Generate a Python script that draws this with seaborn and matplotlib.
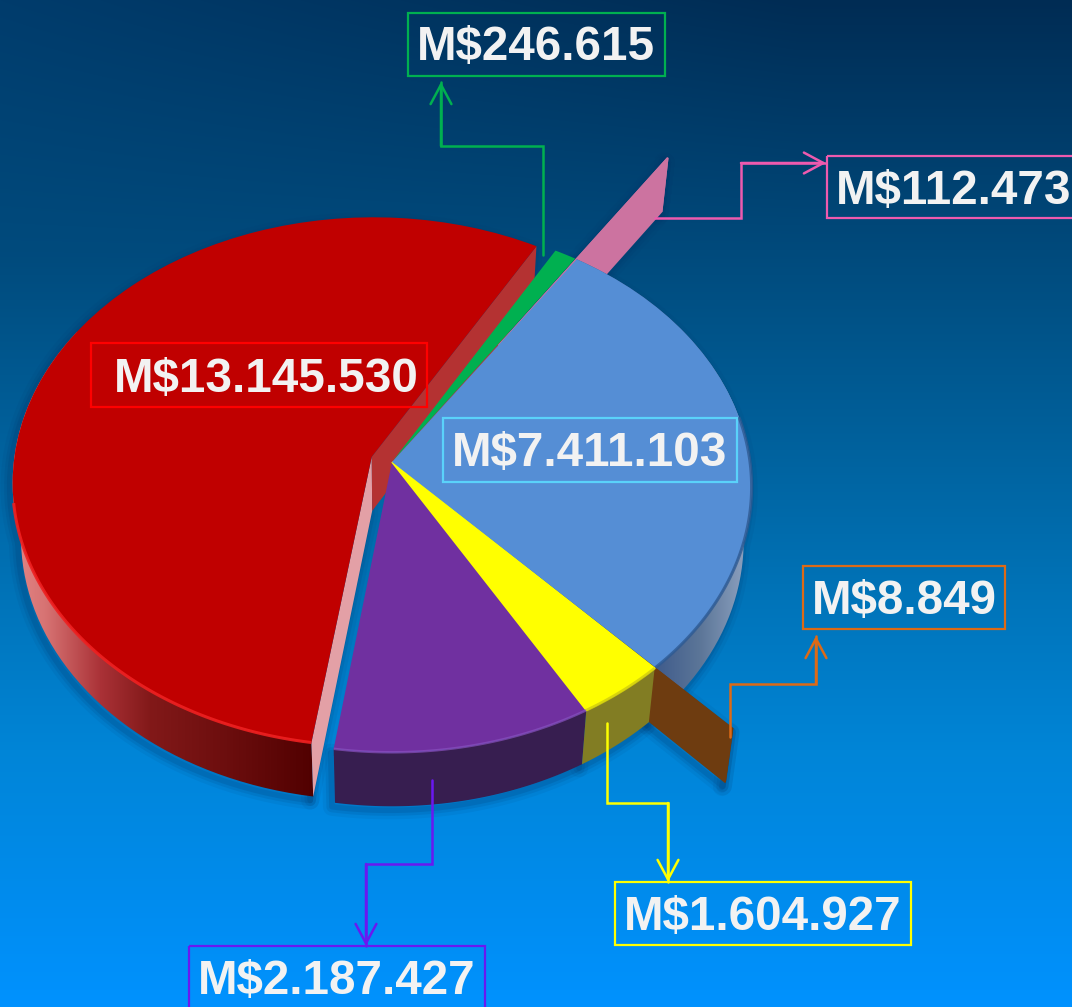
import numpy as np
import matplotlib
matplotlib.use('Agg')
import matplotlib.pyplot as plt
from matplotlib.patches import Polygon, Rectangle
from matplotlib.path import Path
from matplotlib.transforms import Transform
import seaborn as sns

# slices, counterclockwise starting from the red one
slice_names = ['red', 'purple', 'yellow', 'brown', 'blue', 'pink', 'green']
slice_degrees = [201.1, 38.4, 13.2, 0.2, 102.9, 0.3, 3.9]
slice_pulled = [0.06, 0, 0, 0.27, 0, 0.56, 0]
slice_labels = ['M$13.145.530', 'M$2.187.427', 'M$1.604.927', 'M$8.849',
                'M$7.411.103', 'M$112.473', 'M$246.615']
face_hex = ['#C00000', '#7030A0', '#FFFF00', '#6E3C10', '#558ED5', '#CC73A0', '#00B050']
line_hex = ['#FF0000', '#6A18F0', '#FFFF00', '#DD6A16', '#5AD2FA', '#EE5AAE', '#00B050']

# label layout: x0, y0, x1, y1 of box, text center
boxes = {
    'red': (91, 343, 427, 407, 266, 380),
    'purple': (189, 946, 485, 1030, 337, 982),
    'yellow': (615, 882, 911, 945, 763, 918),
    'brown': (803, 566, 1005, 629, 904, 601),
    'blue': (443, 418, 737, 482, 590, 454),
    'pink': (827, 156, 1090, 218, 954, 191),
    'green': (408, 13, 665, 76, 536, 48),
}
# elbow leaders, last segment of the arrow ones gets a head
leaders = {
    'purple': [(432, 780), (432, 864), (366, 864), (366, 946)],
    'yellow': [(607, 723), (607, 803), (668, 803), (668, 882)],
    'brown': [(730, 737), (730, 684), (816, 684), (816, 636)],
    'pink': [(655, 218), (741, 218), (741, 163), (826, 163)],
    'green': [(543, 255), (543, 146), (441, 146), (441, 82)],
}

CX, CY = 392, 462
RX, RY = 358, 263
KP = 0.094
DEPTH = 54
SHRINK = 0.022


class Tilt(Transform):
    # unit pie plane -> reference pixels, h=0 top of the disc, h=1 underside
    input_dims = 2
    output_dims = 2
    is_separable = False
    has_inverse = False

    def __init__(self, h=0):
        super().__init__()
        self.h = h

    def transform_non_affine(self, values):
        values = np.asarray(values, dtype=float)
        u, v = values[:, 0], values[:, 1]
        w = 1 + KP * v
        x = CX + RX * u / w * (1 - SHRINK * self.h)
        y = CY - RY * v / w + DEPTH * self.h
        return np.column_stack([x, y])


def arc_points(wd, a=None, b=None, n=120):
    a = wd.theta1 if a is None else a
    b = wd.theta2 if b is None else b
    t = np.radians(np.linspace(a, b, n))
    return np.column_stack([wd.center[0] + wd.r * np.cos(t), wd.center[1] + wd.r * np.sin(t)])


def band(pts):
    return np.vstack([Tilt(0).transform(pts), Tilt(1).transform(pts)[::-1]])


def radial_wall(wd, angle):
    t = np.radians(angle)
    pts = np.array([wd.center, (wd.center[0] + wd.r * np.cos(t), wd.center[1] + wd.r * np.sin(t))])
    return band(pts)


def gradient_fill(ax, poly, xs, cols, z):
    # horizontal colour ramp, cut to the polygon
    grid = np.arange(0, 1072)
    ramp = np.column_stack([np.interp(grid, xs, [c[i] for c in cols]) for i in range(3)]) / 255
    im = ax.imshow(ramp[None, :, :], extent=(0, 1072, 1007, 0), aspect='auto', zorder=z,
                   interpolation='bilinear')
    im.set_clip_path(Path(poly), ax.transData)


def shadow(ax, poly):
    for lw, al in [(13, 0.07), (8, 0.11), (4, 0.15)]:
        ax.add_patch(Polygon(poly + (-3, 4), closed=True, fill=False, edgecolor=(0, 0.2, 0.4),
                             lw=lw, alpha=al, zorder=2, joinstyle='round'))


sns.set_theme(style='white')
plt.rcParams['font.family'] = ['Liberation Sans', 'DejaVu Sans']

fig = plt.figure(figsize=(10.72, 10.07), dpi=100)
ax = fig.add_axes([0, 0, 1, 1])

# background
ys = [0, 150, 300, 450, 600, 750, 900, 1007]
gs = [44, 62, 80, 98, 116, 133, 140, 146]
bl = [84, 108, 132, 158, 185, 215, 238, 255]
yy = np.arange(1007)
xx = np.arange(1072)
sky = np.zeros((1007, 1072, 3))
lift = np.outer(np.clip(1 - yy / 260, 0, 1), np.clip(1 - xx / 800, 0, 1))
sky[:, :, 1] = (np.interp(yy, ys, gs)[:, None] + 16 * lift) / 255
sky[:, :, 2] = (np.interp(yy, ys, bl)[:, None] + 24 * lift) / 255
ax.imshow(sky, extent=(0, 1072, 1007, 0), aspect='auto', zorder=0)

palette = sns.color_palette(face_hex)
wedges, _ = ax.pie(slice_degrees, startangle=60.4, explode=slice_pulled, colors=palette,
                   radius=1, counterclock=True, wedgeprops={'linewidth': 0})
w = dict(zip(slice_names, wedges))
face_z = {'red': 7, 'purple': 7, 'yellow': 7, 'brown': 5.5, 'blue': 7.5, 'pink': 3.5, 'green': 7}
for name, wd in w.items():
    wd.set_transform(Tilt(0) + ax.transData)
    wd.set_zorder(face_z[name])
w['yellow'].set(edgecolor=face_hex[2], linewidth=1.2)

# shadows under the solid
for name in ['red', 'purple', 'yellow', 'blue', 'brown', 'pink']:
    shadow(ax, band(arc_points(w[name])))
for name, ang in [('brown', w['brown'].theta2), ('pink', w['pink'].theta1)]:
    shadow(ax, radial_wall(w[name], ang))
shadow(ax, radial_wall(w['red'], w['red'].theta2))

# red rim and cut faces
red_rim = band(arc_points(w['red'], 150, w['red'].theta2))
gradient_fill(ax, red_rim, [20, 45, 100, 150, 220, 315],
              [(225, 130, 130), (215, 115, 115), (170, 50, 55), (130, 25, 25), (110, 15, 15), (80, 0, 0)], 3)
ax.add_patch(Polygon(radial_wall(w['red'], w['red'].theta2), color='#E3A0A6', zorder=3.2, lw=0))
ax.add_patch(Polygon(radial_wall(w['red'], w['red'].theta1), color='#B43232', zorder=3.2, lw=0))

# pulled out slivers are mostly their wall
ax.add_patch(Polygon(band(arc_points(w['pink'])), color=face_hex[5], zorder=3.4, lw=0))
ax.add_patch(Polygon(radial_wall(w['pink'], w['pink'].theta1), color=face_hex[5], zorder=3.4, lw=0))
ax.add_patch(Polygon(radial_wall(w['pink'], w['pink'].theta2), color=face_hex[5], zorder=3.4, lw=0))

gradient_fill(ax, band(arc_points(w['blue'], w['blue'].theta1, w['blue'].theta2)),
              [650, 700, 750], [(60, 88, 138), (92, 118, 152), (145, 165, 195)], 4)
ax.add_patch(Polygon(radial_wall(w['brown'], w['brown'].theta1), color=face_hex[3], zorder=5, lw=0))
ax.add_patch(Polygon(radial_wall(w['brown'], w['brown'].theta2), color=face_hex[3], zorder=5, lw=0))
ax.add_patch(Polygon(band(arc_points(w['brown'])), color=face_hex[3], zorder=5, lw=0))

ax.add_patch(Polygon(band(arc_points(w['purple'])), color='#371E50', zorder=6, lw=0))
ax.add_patch(Polygon(band(arc_points(w['yellow'])), color='#827D23', zorder=6, lw=0))

# rim highlights
for name, a, b, col, lw, al in [('red', 190, w['red'].theta2, '#F02020', 2.2, 0.9),
                                ('purple', w['purple'].theta1, w['purple'].theta2, '#8A50C0', 1.8, 0.7),
                                ('yellow', w['yellow'].theta1, w['yellow'].theta2, '#D0CC10', 2.0, 0.8),
                                ('blue', w['blue'].theta1, 370, '#2F5A92', 2.2, 0.8)]:
    p = Tilt(0).transform(arc_points(w[name], a, b))
    ax.plot(p[:, 0], p[:, 1], color=col, lw=lw, alpha=al, zorder=8, solid_capstyle='butt')

# leaders
for i, name in enumerate(slice_names):
    if name not in leaders:
        continue
    pts = np.array(leaders[name])
    col = line_hex[i]
    ax.plot(pts[:, 0], pts[:, 1], color=col, lw=1.8, zorder=9, solid_joinstyle='miter')
    ax.annotate('', xy=pts[-1], xytext=pts[-2], zorder=9,
                arrowprops=dict(arrowstyle='->,head_length=1.4,head_width=0.75', color=col, lw=1.8,
                                shrinkA=0, shrinkB=0, mutation_scale=10))

# label boxes
for i, name in enumerate(slice_names):
    x0, y0, x1, y1, tx, ty = boxes[name]
    ax.add_patch(Rectangle((x0, y0), x1 - x0, y1 - y0, fill=False, edgecolor=line_hex[i], lw=1.6, zorder=10))
    ax.text(tx, ty, slice_labels[i], color='#F2F2F2', fontsize=34.3, fontweight='bold',
            ha='center', va='center', zorder=11)

ax.set_aspect('auto')
ax.set_xlim(0, 1072)
ax.set_ylim(1007, 0)
ax.axis('off')
fig.savefig('out.png', dpi=100)
